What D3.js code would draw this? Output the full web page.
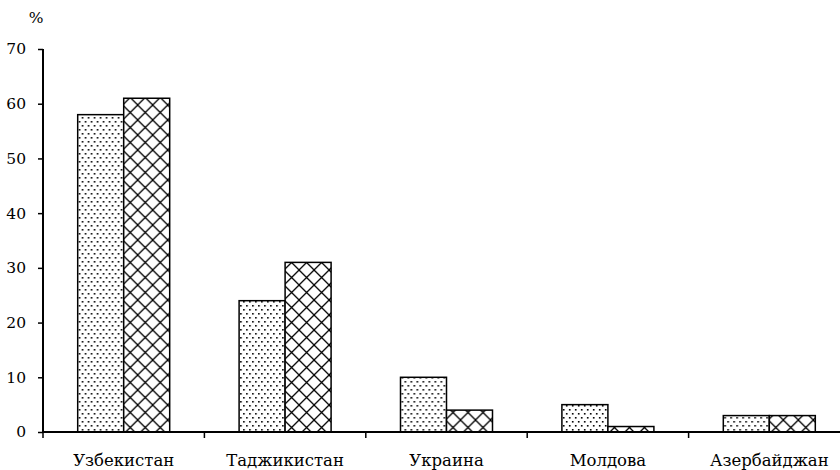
<!DOCTYPE html>
<html>
<head>
<meta charset="utf-8">
<script src="https://cdn.jsdelivr.net/npm/d3@7"></script>
<style>
  body { margin: 0; background: #fff; }
  svg { display: block; }
  text { font-family: "DejaVu Serif", serif; fill: #000; }
</style>
</head>
<body>
<svg id="chart" width="840" height="470"></svg>
<script>
var countries = ["Узбекистан", "Таджикистан", "Украина", "Молдова", "Азербайджан"];
var series1 = [58, 24, 10, 5, 3];
var series2 = [61, 31, 4, 1, 3];
var yTicks = [0, 10, 20, 30, 40, 50, 60, 70];

var svg = d3.select("#chart");
var plotLeft = 43, plotRight = 850, plotTop = 49, plotBottom = 432;

var x = d3.scaleBand().domain(countries).range([plotLeft, plotRight]);
var y = d3.scaleLinear().domain([0, 70]).range([plotBottom, plotTop]);
var sub = d3.scaleBand().domain([0, 1]).range([0, x.bandwidth() * 0.57]);
var off = (x.bandwidth() - sub.range()[1]) / 2;

var defs = svg.append("defs");
var dots = defs.append("pattern")
  .attr("id", "dots")
  .attr("patternUnits", "userSpaceOnUse")
  .attr("width", 6).attr("height", 8);
dots.append("rect").attr("width", 6).attr("height", 8).attr("fill", "white");
dots.append("rect").attr("x", 1).attr("y", 1).attr("width", 1.6).attr("height", 1.6).attr("fill", "black");
dots.append("rect").attr("x", 4).attr("y", 5).attr("width", 1.6).attr("height", 1.6).attr("fill", "black");

var hatch = defs.append("pattern")
  .attr("id", "hatch")
  .attr("patternUnits", "userSpaceOnUse")
  .attr("width", 15).attr("height", 15);
hatch.append("rect").attr("width", 15).attr("height", 15).attr("fill", "white");
hatch.append("path")
  .attr("d", "M0,0L15,15M15,0L0,15")
  .attr("stroke", "black").attr("stroke-width", 1.3).attr("fill", "none");

var groups = svg.append("g").selectAll("g")
  .data(countries)
  .enter()
  .append("g")
  .attr("transform", d => `translate(${x(d) + off},0)`);

groups.append("rect")
  .attr("x", sub(0))
  .attr("y", (d, i) => y(series1[i]))
  .attr("width", sub.bandwidth())
  .attr("height", (d, i) => plotBottom - y(series1[i]))
  .attr("fill", "url(#dots)")
  .attr("stroke", "black").attr("stroke-width", 1.5);

groups.append("rect")
  .attr("x", sub(1))
  .attr("y", (d, i) => y(series2[i]))
  .attr("width", sub.bandwidth())
  .attr("height", (d, i) => plotBottom - y(series2[i]))
  .attr("fill", "url(#hatch)")
  .attr("stroke", "black").attr("stroke-width", 1.5);

// y axis
var yAxis = svg.append("g")
  .attr("transform", `translate(${plotLeft},0)`)
  .call(d3.axisLeft(y).tickValues(yTicks).tickSize(5).tickPadding(12));
yAxis.attr("font-family", null).attr("font-size", null);
yAxis.select(".domain").attr("stroke-width", 2).attr("d", `M0,${plotTop}V${plotBottom}`);
yAxis.selectAll(".tick line").attr("stroke-width", 1.5);
yAxis.selectAll("text")
  .style("font-size", "15.5px")
  .attr("fill", "black");

// x axis
svg.append("line")
  .attr("x1", plotLeft).attr("x2", 840)
  .attr("y1", plotBottom).attr("y2", plotBottom)
  .attr("stroke", "black").attr("stroke-width", 2);

svg.append("g").selectAll("line")
  .data(countries)
  .enter()
  .append("line")
  .attr("x1", d => x(d)).attr("x2", d => x(d))
  .attr("y1", plotBottom).attr("y2", plotBottom + 6)
  .attr("stroke", "black").attr("stroke-width", 1.5);

svg.append("g").selectAll("text")
  .data(countries)
  .enter()
  .append("text")
  .attr("x", d => x(d) + x.bandwidth() / 2)
  .attr("y", 466)
  .attr("text-anchor", "middle")
  .style("font-size", "16.5px")
  .text(d => d);

svg.append("text")
  .attr("x", 36).attr("y", 23)
  .attr("text-anchor", "middle")
  .style("font-size", "15.5px")
  .text("%");
</script>
</body>
</html>
